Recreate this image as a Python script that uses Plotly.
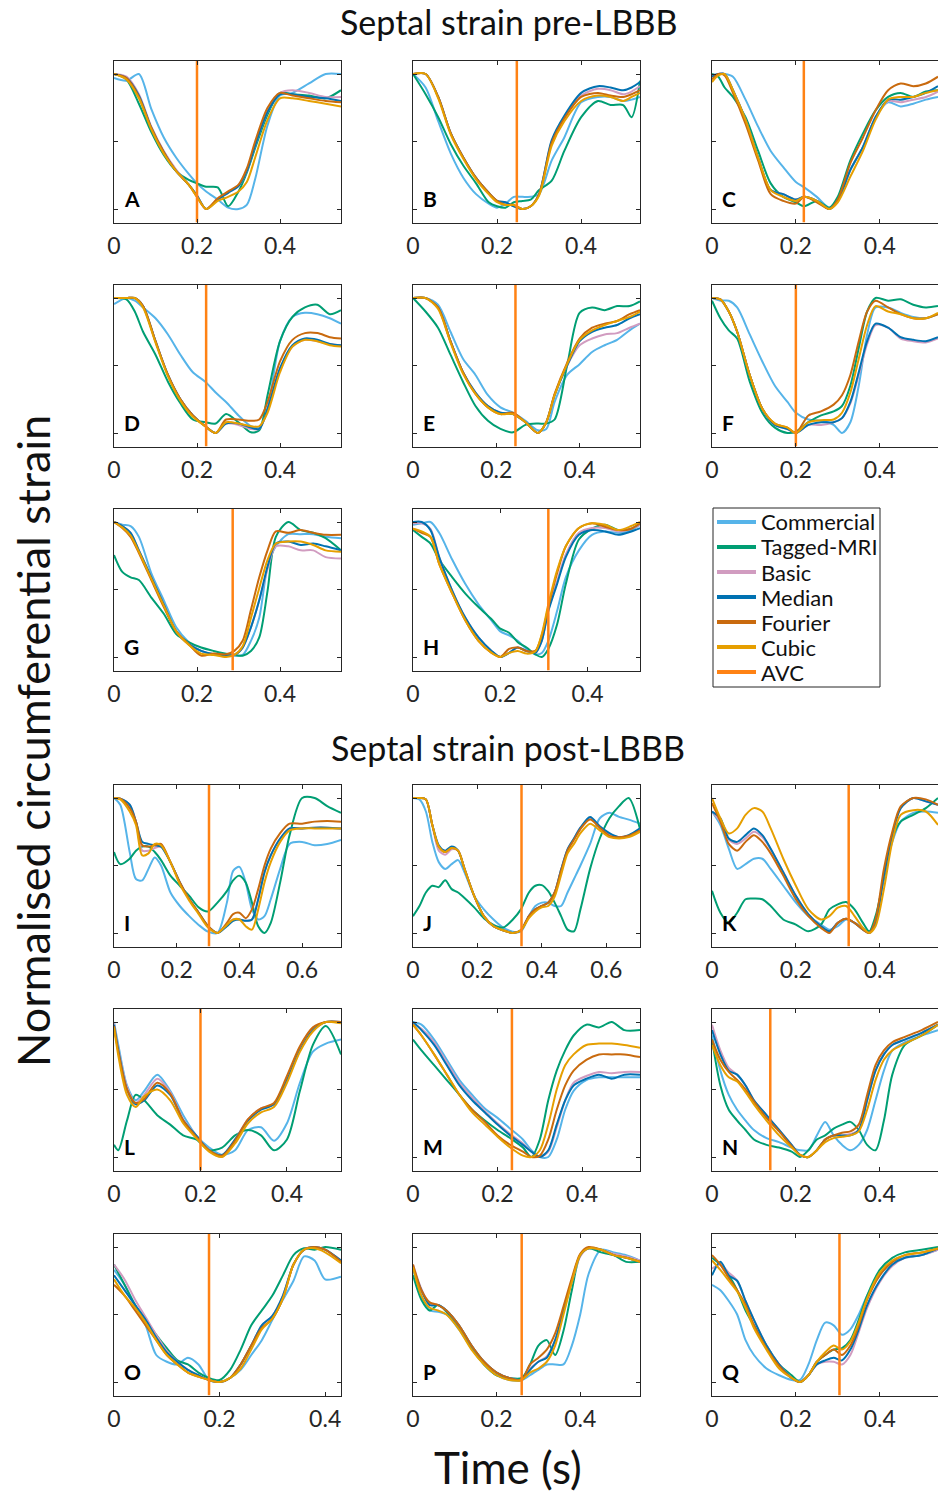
import plotly.graph_objects as go

FONT = "Lato"
INK = "#262626"

SERIES = ["Commercial", "Tagged-MRI", "Basic", "Median", "Fourier", "Cubic"]
COLORS = ["#56B4E9", "#009E73", "#D19CC0", "#0072B2", "#C96A0E", "#E69F00"]
AVC_COLOR = "#FF8214"

# ---------------- pre-LBBB ----------------
A_t = [0, 0.03, 0.06, 0.09, 0.12, 0.15, 0.18, 0.20, 0.222, 0.25, 0.275, 0.30, 0.32, 0.34, 0.37, 0.40, 0.43, 0.47, 0.51, 0.547]
A_commercial = [0.97, 0.95, 1.0, 0.74, 0.53, 0.38, 0.26, 0.19, 0.13, 0.07, 0.01, 0.0, 0.03, 0.22, 0.62, 0.84, 0.86, 0.93, 1.0, 1.0]
A_tagged = [1.0, 0.96, 0.78, 0.57, 0.40, 0.28, 0.215, 0.19, 0.165, 0.16, 0.02, 0.13, 0.27, 0.45, 0.70, 0.86, 0.85, 0.84, 0.82, 0.88]
A_basic = [1.0, 0.98, 0.85, 0.61, 0.43, 0.29, 0.18, 0.10, 0.0, 0.07, 0.12, 0.17, 0.28, 0.47, 0.72, 0.86, 0.88, 0.86, 0.83, 0.83]
A_median = [1.0, 0.97, 0.84, 0.60, 0.42, 0.28, 0.18, 0.10, 0.0, 0.07, 0.12, 0.17, 0.28, 0.47, 0.72, 0.85, 0.85, 0.83, 0.82, 0.80]
A_fourier = [1.0, 0.97, 0.83, 0.60, 0.42, 0.28, 0.18, 0.09, 0.0, 0.08, 0.13, 0.18, 0.30, 0.50, 0.75, 0.86, 0.84, 0.82, 0.80, 0.79]
A_cubic = [1.0, 0.96, 0.82, 0.59, 0.41, 0.28, 0.18, 0.09, 0.0, 0.06, 0.09, 0.13, 0.20, 0.38, 0.66, 0.82, 0.82, 0.80, 0.78, 0.76]
A_avc = 0.20

B_t = [0, 0.03, 0.06, 0.09, 0.12, 0.15, 0.18, 0.20, 0.22, 0.24, 0.26, 0.28, 0.30, 0.33, 0.36, 0.40, 0.44, 0.47, 0.50, 0.52, 0.54]
B_commercial = [1.0, 0.9, 0.65, 0.41, 0.23, 0.11, 0.04, 0.01, 0.04, 0.09, 0.09, 0.09, 0.11, 0.36, 0.53, 0.79, 0.83, 0.83, 0.80, 0.81, 0.83]
B_tagged = [1.0, 0.85, 0.68, 0.48, 0.32, 0.19, 0.05, 0.02, 0.01, 0.05, 0.06, 0.07, 0.14, 0.21, 0.43, 0.68, 0.80, 0.77, 0.77, 0.68, 0.95]
B_basic = [1.0, 1.0, 0.83, 0.56, 0.38, 0.23, 0.12, 0.06, 0.05, 0.02, 0.0, 0.02, 0.11, 0.50, 0.68, 0.84, 0.89, 0.88, 0.85, 0.87, 0.91]
B_median = [1.0, 1.0, 0.83, 0.56, 0.38, 0.23, 0.12, 0.06, 0.05, 0.02, 0.0, 0.02, 0.11, 0.51, 0.69, 0.86, 0.91, 0.90, 0.88, 0.90, 0.94]
B_fourier = [1.0, 1.0, 0.83, 0.56, 0.38, 0.23, 0.12, 0.06, 0.03, 0.03, 0.0, 0.02, 0.11, 0.49, 0.67, 0.83, 0.86, 0.84, 0.83, 0.85, 0.88]
B_cubic = [1.0, 1.0, 0.82, 0.55, 0.37, 0.22, 0.11, 0.05, 0.03, 0.03, 0.0, 0.02, 0.10, 0.47, 0.65, 0.80, 0.84, 0.83, 0.80, 0.83, 0.86]
B_avc = 0.247

C_t = [0, 0.015, 0.03, 0.05, 0.08, 0.11, 0.14, 0.17, 0.20, 0.22, 0.25, 0.28, 0.30, 0.33, 0.36, 0.39, 0.42, 0.45, 0.48, 0.51, 0.539]
C_commercial = [0.99, 1.0, 1.0, 0.98, 0.81, 0.61, 0.43, 0.31, 0.20, 0.16, 0.09, 0.01, 0.06, 0.29, 0.46, 0.68, 0.79, 0.76, 0.78, 0.81, 0.83]
C_tagged = [1.0, 0.98, 0.90, 0.83, 0.68, 0.43, 0.19, 0.09, 0.05, 0.02, 0.06, 0.01, 0.09, 0.36, 0.56, 0.73, 0.83, 0.86, 0.83, 0.87, 0.88]
C_basic = [0.98, 1.0, 1.0, 0.88, 0.66, 0.38, 0.14, 0.11, 0.07, 0.09, 0.06, 0.0, 0.06, 0.29, 0.46, 0.68, 0.80, 0.79, 0.81, 0.83, 0.87]
C_median = [0.98, 1.0, 1.0, 0.88, 0.66, 0.38, 0.14, 0.11, 0.07, 0.09, 0.06, 0.0, 0.06, 0.29, 0.46, 0.68, 0.81, 0.81, 0.83, 0.86, 0.91]
C_fourier = [0.96, 1.0, 0.99, 0.86, 0.63, 0.36, 0.11, 0.06, 0.04, 0.09, 0.05, 0.0, 0.07, 0.34, 0.53, 0.73, 0.88, 0.93, 0.91, 0.93, 0.98]
C_cubic = [0.94, 0.99, 1.0, 0.88, 0.66, 0.38, 0.14, 0.09, 0.06, 0.09, 0.06, 0.0, 0.05, 0.24, 0.43, 0.66, 0.81, 0.83, 0.83, 0.86, 0.88]
C_avc = 0.219

D_t = [0, 0.03, 0.05, 0.07, 0.10, 0.13, 0.16, 0.19, 0.22, 0.245, 0.27, 0.30, 0.33, 0.35, 0.37, 0.40, 0.43, 0.46, 0.49, 0.52, 0.547]
D_commercial = [0.955, 1.0, 0.98, 0.93, 0.85, 0.73, 0.58, 0.45, 0.38, 0.30, 0.23, 0.13, 0.05, 0.04, 0.18, 0.68, 0.86, 0.89, 0.88, 0.85, 0.81]
D_tagged = [1.0, 0.99, 0.90, 0.75, 0.58, 0.38, 0.22, 0.10, 0.08, 0.07, 0.14, 0.08, 0.005, 0.02, 0.28, 0.68, 0.86, 0.93, 0.95, 0.88, 0.91]
D_basic = [1.0, 1.0, 1.0, 0.94, 0.68, 0.43, 0.25, 0.13, 0.05, 0.0, 0.07, 0.06, 0.03, 0.03, 0.17, 0.47, 0.64, 0.69, 0.68, 0.66, 0.65]
D_median = [1.0, 1.0, 1.0, 0.94, 0.68, 0.43, 0.25, 0.13, 0.05, 0.0, 0.07, 0.07, 0.04, 0.03, 0.18, 0.48, 0.65, 0.70, 0.69, 0.66, 0.65]
D_fourier = [1.0, 1.0, 1.0, 0.94, 0.68, 0.43, 0.25, 0.13, 0.05, 0.0, 0.10, 0.10, 0.09, 0.10, 0.23, 0.53, 0.69, 0.74, 0.74, 0.71, 0.70]
D_cubic = [1.0, 1.0, 1.0, 0.93, 0.67, 0.42, 0.24, 0.12, 0.05, 0.0, 0.08, 0.07, 0.05, 0.05, 0.15, 0.45, 0.64, 0.69, 0.68, 0.65, 0.64]
D_avc = 0.222

E_t = [0, 0.03, 0.06, 0.09, 0.12, 0.15, 0.18, 0.21, 0.24, 0.27, 0.30, 0.32, 0.34, 0.37, 0.40, 0.43, 0.46, 0.49, 0.52, 0.545]
E_commercial = [1.0, 1.0, 0.95, 0.75, 0.55, 0.43, 0.28, 0.19, 0.15, 0.09, 0.02, 0.03, 0.23, 0.43, 0.51, 0.60, 0.65, 0.69, 0.76, 0.81]
E_tagged = [1.0, 0.90, 0.78, 0.58, 0.38, 0.20, 0.09, 0.03, 0.005, 0.06, 0.07, 0.07, 0.10, 0.50, 0.89, 0.93, 0.91, 0.94, 0.94, 0.975]
E_basic = [1.0, 1.0, 0.93, 0.68, 0.45, 0.30, 0.20, 0.15, 0.14, 0.08, 0.0, 0.08, 0.28, 0.50, 0.65, 0.70, 0.73, 0.74, 0.78, 0.81]
E_median = [1.0, 1.0, 0.93, 0.68, 0.45, 0.30, 0.20, 0.15, 0.14, 0.08, 0.0, 0.08, 0.28, 0.50, 0.68, 0.75, 0.78, 0.80, 0.85, 0.88]
E_fourier = [1.0, 1.0, 0.93, 0.68, 0.45, 0.29, 0.19, 0.14, 0.15, 0.08, 0.0, 0.08, 0.29, 0.52, 0.70, 0.78, 0.81, 0.83, 0.88, 0.91]
E_cubic = [1.0, 1.0, 0.92, 0.67, 0.44, 0.29, 0.19, 0.14, 0.14, 0.08, 0.0, 0.08, 0.28, 0.51, 0.69, 0.76, 0.80, 0.83, 0.86, 0.90]
E_avc = 0.246

F_t = [0, 0.02, 0.04, 0.06, 0.09, 0.12, 0.15, 0.18, 0.20, 0.23, 0.26, 0.29, 0.31, 0.33, 0.35, 0.37, 0.39, 0.42, 0.45, 0.48, 0.51, 0.539]
F_commercial = [1.0, 0.98, 0.98, 0.93, 0.73, 0.53, 0.35, 0.23, 0.15, 0.10, 0.09, 0.06, 0.0, 0.08, 0.35, 0.73, 0.93, 0.93, 0.89, 0.86, 0.85, 0.88]
F_tagged = [0.98, 0.85, 0.76, 0.70, 0.38, 0.15, 0.04, 0.0, 0.01, 0.08, 0.13, 0.16, 0.20, 0.35, 0.63, 0.90, 1.0, 0.98, 0.99, 0.95, 0.93, 0.94]
F_basic = [1.0, 0.99, 0.90, 0.75, 0.43, 0.18, 0.06, 0.03, 0.0, 0.06, 0.06, 0.08, 0.11, 0.22, 0.43, 0.66, 0.80, 0.78, 0.70, 0.68, 0.67, 0.70]
F_median = [1.0, 0.99, 0.90, 0.75, 0.43, 0.18, 0.06, 0.03, 0.0, 0.06, 0.08, 0.08, 0.11, 0.23, 0.45, 0.68, 0.81, 0.78, 0.71, 0.69, 0.68, 0.71]
F_fourier = [1.0, 0.99, 0.90, 0.75, 0.43, 0.18, 0.07, 0.04, 0.0, 0.13, 0.16, 0.21, 0.28, 0.43, 0.68, 0.90, 0.98, 0.93, 0.88, 0.85, 0.85, 0.88]
F_cubic = [1.0, 0.99, 0.90, 0.75, 0.43, 0.18, 0.07, 0.04, 0.0, 0.08, 0.095, 0.10, 0.15, 0.30, 0.55, 0.80, 0.94, 0.90, 0.88, 0.85, 0.85, 0.89]
F_avc = 0.20

G_t = [0, 0.02, 0.04, 0.06, 0.09, 0.12, 0.15, 0.18, 0.21, 0.24, 0.27, 0.29, 0.31, 0.33, 0.35, 0.37, 0.39, 0.42, 0.45, 0.48, 0.51, 0.547]
G_commercial = [1.0, 0.98, 0.97, 0.89, 0.62, 0.42, 0.22, 0.11, 0.045, 0.02, 0.01, 0.01, 0.015, 0.12, 0.29, 0.67, 0.82, 0.91, 0.91, 0.91, 0.89, 0.88]
G_tagged = [0.755, 0.63, 0.59, 0.57, 0.44, 0.32, 0.17, 0.11, 0.07, 0.045, 0.025, 0.015, 0.01, 0.045, 0.145, 0.49, 0.89, 1.0, 0.94, 0.92, 0.88, 0.79]
G_basic = [1.0, 0.97, 0.92, 0.79, 0.59, 0.39, 0.19, 0.095, 0.045, 0.02, 0.01, 0.015, 0.07, 0.22, 0.42, 0.65, 0.82, 0.82, 0.79, 0.79, 0.74, 0.73]
G_median = [1.0, 0.97, 0.92, 0.79, 0.59, 0.39, 0.19, 0.095, 0.045, 0.02, 0.01, 0.015, 0.07, 0.22, 0.42, 0.67, 0.84, 0.855, 0.83, 0.84, 0.82, 0.79]
G_fourier = [1.0, 0.955, 0.89, 0.77, 0.57, 0.37, 0.19, 0.095, 0.01, 0.025, 0.02, 0.045, 0.12, 0.35, 0.59, 0.79, 0.93, 0.92, 0.94, 0.92, 0.905, 0.905]
G_cubic = [1.0, 0.96, 0.90, 0.78, 0.58, 0.38, 0.19, 0.09, 0.025, 0.015, 0.0, 0.015, 0.08, 0.29, 0.51, 0.72, 0.84, 0.855, 0.855, 0.83, 0.79, 0.78]
G_avc = 0.286

H_t = [0, 0.02, 0.04, 0.06, 0.09, 0.12, 0.15, 0.18, 0.20, 0.22, 0.24, 0.26, 0.28, 0.295, 0.31, 0.33, 0.35, 0.38, 0.41, 0.44, 0.47, 0.50, 0.52]
H_commercial = [0.98, 0.99, 1.0, 0.92, 0.72, 0.54, 0.39, 0.27, 0.19, 0.16, 0.12, 0.06, 0.02, 0.03, 0.12, 0.34, 0.59, 0.79, 0.905, 0.93, 0.92, 0.94, 0.98]
H_tagged = [0.94, 0.89, 0.84, 0.72, 0.59, 0.47, 0.37, 0.28, 0.21, 0.18, 0.11, 0.07, 0.02, 0.0, 0.06, 0.24, 0.54, 0.87, 0.95, 0.98, 0.94, 0.95, 0.99]
H_basic = [0.99, 0.99, 0.95, 0.74, 0.49, 0.29, 0.145, 0.045, 0.0, 0.03, 0.07, 0.045, 0.03, 0.12, 0.35, 0.56, 0.76, 0.92, 0.955, 0.955, 0.93, 0.95, 0.98]
H_median = [1.0, 1.0, 0.94, 0.74, 0.49, 0.29, 0.145, 0.045, 0.0, 0.03, 0.07, 0.045, 0.03, 0.12, 0.34, 0.54, 0.74, 0.905, 0.94, 0.93, 0.905, 0.93, 0.955]
H_fourier = [0.95, 0.92, 0.89, 0.69, 0.47, 0.27, 0.12, 0.03, 0.0, 0.06, 0.07, 0.045, 0.045, 0.16, 0.37, 0.62, 0.82, 0.955, 0.99, 0.965, 0.94, 0.95, 0.99]
H_cubic = [0.95, 0.93, 0.89, 0.69, 0.47, 0.27, 0.12, 0.03, 0.0, 0.03, 0.045, 0.025, 0.04, 0.17, 0.39, 0.64, 0.82, 0.955, 0.99, 0.98, 0.94, 0.97, 1.0]
H_avc = 0.31

# ---------------- post-LBBB ----------------
I_t = [0, 0.02, 0.05, 0.07, 0.09, 0.11, 0.13, 0.15, 0.18, 0.21, 0.24, 0.27, 0.30, 0.33, 0.36, 0.38, 0.40, 0.42, 0.44, 0.46, 0.48, 0.50, 0.53, 0.56, 0.60, 0.64, 0.68, 0.724]
I_commercial = [1.0, 0.95, 0.60, 0.40, 0.39, 0.475, 0.56, 0.50, 0.30, 0.20, 0.125, 0.06, 0.01, 0.0, 0.225, 0.46, 0.49, 0.375, 0.175, 0.10, 0.125, 0.25, 0.475, 0.66, 0.675, 0.65, 0.66, 0.69]
I_tagged = [0.60, 0.51, 0.55, 0.61, 0.64, 0.64, 0.60, 0.54, 0.425, 0.35, 0.275, 0.19, 0.16, 0.225, 0.31, 0.39, 0.425, 0.375, 0.225, 0.05, 0.0, 0.075, 0.375, 0.725, 1.0, 1.0, 0.94, 0.89]
I_basic = [1.0, 0.995, 0.95, 0.825, 0.61, 0.61, 0.63, 0.64, 0.525, 0.375, 0.25, 0.15, 0.05, 0.0, 0.06, 0.10, 0.10, 0.09, 0.10, 0.25, 0.45, 0.575, 0.70, 0.775, 0.775, 0.78, 0.78, 0.775]
I_median = [1.0, 0.995, 0.95, 0.825, 0.675, 0.66, 0.65, 0.64, 0.525, 0.375, 0.25, 0.15, 0.05, 0.0, 0.05, 0.09, 0.10, 0.09, 0.10, 0.25, 0.45, 0.575, 0.70, 0.775, 0.775, 0.78, 0.78, 0.775]
I_fourier = [1.0, 0.995, 0.925, 0.825, 0.65, 0.64, 0.65, 0.66, 0.525, 0.375, 0.25, 0.15, 0.05, 0.0, 0.075, 0.14, 0.15, 0.11, 0.175, 0.325, 0.50, 0.625, 0.74, 0.81, 0.81, 0.825, 0.83, 0.825]
I_cubic = [1.0, 0.99, 0.90, 0.80, 0.575, 0.59, 0.66, 0.65, 0.525, 0.36, 0.24, 0.14, 0.04, 0.0, 0.06, 0.10, 0.10, 0.05, 0.025, 0.175, 0.375, 0.525, 0.675, 0.76, 0.775, 0.775, 0.775, 0.775]
I_avc = 0.303

J_t = [0, 0.02, 0.04, 0.06, 0.08, 0.10, 0.12, 0.14, 0.16, 0.19, 0.22, 0.25, 0.28, 0.31, 0.335, 0.36, 0.38, 0.40, 0.42, 0.44, 0.46, 0.48, 0.50, 0.52, 0.55, 0.58, 0.61, 0.64, 0.67, 0.705]
J_commercial = [1.0, 0.99, 0.90, 0.675, 0.525, 0.475, 0.51, 0.54, 0.45, 0.275, 0.175, 0.10, 0.04, 0.01, 0.01, 0.125, 0.20, 0.225, 0.225, 0.20, 0.20, 0.30, 0.40, 0.50, 0.66, 0.85, 0.89, 0.86, 0.84, 0.81]
J_tagged = [0.125, 0.20, 0.30, 0.35, 0.34, 0.39, 0.325, 0.30, 0.26, 0.19, 0.11, 0.06, 0.04, 0.10, 0.175, 0.30, 0.35, 0.355, 0.31, 0.225, 0.125, 0.025, 0.0125, 0.175, 0.475, 0.70, 0.85, 0.94, 1.0, 0.77]
J_basic = [1.0, 1.0, 0.99, 0.80, 0.61, 0.58, 0.62, 0.61, 0.475, 0.275, 0.125, 0.05, 0.02, 0.0, 0.02, 0.125, 0.175, 0.20, 0.225, 0.30, 0.47, 0.62, 0.70, 0.78, 0.85, 0.78, 0.73, 0.71, 0.72, 0.77]
J_median = [1.0, 1.0, 0.99, 0.80, 0.65, 0.61, 0.64, 0.61, 0.475, 0.275, 0.125, 0.05, 0.02, 0.0, 0.02, 0.125, 0.175, 0.20, 0.225, 0.30, 0.47, 0.62, 0.70, 0.78, 0.86, 0.79, 0.74, 0.71, 0.725, 0.775]
J_fourier = [1.0, 1.0, 0.99, 0.80, 0.64, 0.60, 0.63, 0.61, 0.475, 0.275, 0.125, 0.05, 0.02, 0.0, 0.02, 0.125, 0.175, 0.20, 0.225, 0.30, 0.46, 0.61, 0.69, 0.77, 0.84, 0.78, 0.72, 0.71, 0.72, 0.76]
J_cubic = [1.0, 1.0, 0.99, 0.80, 0.64, 0.60, 0.63, 0.61, 0.475, 0.275, 0.125, 0.05, 0.02, 0.0, 0.02, 0.11, 0.16, 0.19, 0.20, 0.27, 0.43, 0.59, 0.66, 0.74, 0.81, 0.76, 0.71, 0.70, 0.71, 0.75]
J_avc = 0.337

K_t = [0, 0.02, 0.04, 0.06, 0.08, 0.10, 0.12, 0.14, 0.17, 0.20, 0.23, 0.26, 0.28, 0.30, 0.32, 0.34, 0.36, 0.375, 0.39, 0.41, 0.43, 0.45, 0.48, 0.51, 0.539]
K_commercial = [0.90, 0.80, 0.625, 0.475, 0.51, 0.55, 0.55, 0.475, 0.35, 0.225, 0.125, 0.0625, 0.025, 0.05, 0.10, 0.075, 0.0375, 0.005, 0.10, 0.425, 0.675, 0.825, 0.89, 0.90, 0.89]
K_tagged = [0.3125, 0.15, 0.075, 0.15, 0.25, 0.255, 0.25, 0.20, 0.10, 0.0625, 0.0125, 0.0625, 0.175, 0.2125, 0.23, 0.175, 0.075, 0.0125, 0.125, 0.40, 0.70, 0.825, 0.875, 0.925, 1.0]
K_basic = [0.90, 0.825, 0.69, 0.66, 0.70, 0.75, 0.71, 0.62, 0.45, 0.275, 0.1375, 0.05, 0.0125, 0.075, 0.105, 0.075, 0.025, 0.0, 0.075, 0.425, 0.725, 0.925, 1.0, 0.975, 0.95]
K_median = [0.90, 0.85, 0.70, 0.675, 0.725, 0.775, 0.725, 0.625, 0.45, 0.275, 0.1375, 0.05, 0.0125, 0.075, 0.105, 0.075, 0.025, 0.0, 0.075, 0.425, 0.725, 0.925, 1.0, 0.975, 0.95]
K_fourier = [0.9625, 0.825, 0.66, 0.61, 0.675, 0.725, 0.675, 0.59, 0.425, 0.25, 0.125, 0.0375, 0.0, 0.075, 0.105, 0.075, 0.025, 0.0, 0.10, 0.475, 0.75, 0.9375, 1.0, 0.99, 0.95]
K_cubic = [1.0, 0.85, 0.7375, 0.775, 0.875, 0.925, 0.90, 0.775, 0.55, 0.35, 0.175, 0.10, 0.125, 0.1875, 0.20, 0.125, 0.0375, 0.0, 0.05, 0.325, 0.675, 0.875, 0.91, 0.90, 0.80]
K_avc = 0.326

L_t = [0, 0.01, 0.03, 0.05, 0.07, 0.10, 0.13, 0.16, 0.19, 0.22, 0.25, 0.28, 0.31, 0.34, 0.37, 0.40, 0.43, 0.46, 0.49, 0.525]
L_commercial = [1.0, 0.83, 0.53, 0.42, 0.49, 0.61, 0.49, 0.31, 0.16, 0.07, 0.015, 0.05, 0.20, 0.22, 0.12, 0.25, 0.55, 0.78, 0.84, 0.87]
L_tagged = [0.09, 0.05, 0.27, 0.46, 0.42, 0.31, 0.24, 0.16, 0.13, 0.05, 0.07, 0.16, 0.20, 0.16, 0.05, 0.13, 0.49, 0.83, 0.97, 0.76]
L_basic = [0.99, 0.80, 0.52, 0.40, 0.46, 0.58, 0.48, 0.28, 0.16, 0.05, 0.0, 0.13, 0.28, 0.36, 0.39, 0.57, 0.80, 0.95, 1.0, 1.0]
L_median = [0.98, 0.79, 0.50, 0.39, 0.42, 0.53, 0.46, 0.27, 0.16, 0.05, 0.015, 0.13, 0.27, 0.35, 0.39, 0.57, 0.79, 0.94, 1.0, 1.0]
L_fourier = [0.97, 0.78, 0.50, 0.40, 0.43, 0.55, 0.47, 0.27, 0.15, 0.05, 0.01, 0.12, 0.28, 0.36, 0.40, 0.60, 0.82, 0.96, 1.0, 1.0]
L_cubic = [0.96, 0.75, 0.46, 0.37, 0.45, 0.50, 0.42, 0.25, 0.14, 0.04, 0.0, 0.10, 0.25, 0.33, 0.37, 0.55, 0.78, 0.93, 1.0, 0.99]
L_avc = 0.20

M_t = [0, 0.02, 0.05, 0.08, 0.11, 0.14, 0.17, 0.20, 0.23, 0.26, 0.28, 0.30, 0.32, 0.34, 0.36, 0.38, 0.41, 0.44, 0.47, 0.50, 0.537]
M_commercial = [1.0, 0.98, 0.87, 0.72, 0.57, 0.46, 0.36, 0.29, 0.21, 0.13, 0.05, 0.0, 0.0, 0.13, 0.35, 0.49, 0.57, 0.59, 0.59, 0.59, 0.59]
M_tagged = [0.87, 0.79, 0.68, 0.57, 0.46, 0.35, 0.27, 0.20, 0.14, 0.07, 0.0, 0.13, 0.42, 0.64, 0.79, 0.90, 0.98, 0.96, 1.0, 0.94, 0.94]
M_basic = [0.99, 0.95, 0.85, 0.70, 0.55, 0.44, 0.34, 0.25, 0.17, 0.10, 0.04, 0.0, 0.04, 0.22, 0.42, 0.55, 0.60, 0.63, 0.62, 0.63, 0.63]
M_median = [1.0, 0.94, 0.83, 0.68, 0.53, 0.42, 0.33, 0.24, 0.16, 0.09, 0.04, 0.0, 0.05, 0.24, 0.42, 0.53, 0.58, 0.61, 0.58, 0.61, 0.61]
M_fourier = [0.98, 0.90, 0.76, 0.61, 0.46, 0.35, 0.26, 0.16, 0.09, 0.04, 0.0, 0.01, 0.13, 0.35, 0.53, 0.64, 0.72, 0.76, 0.76, 0.76, 0.74]
M_cubic = [0.98, 0.90, 0.76, 0.61, 0.46, 0.33, 0.24, 0.15, 0.07, 0.01, 0.0, 0.05, 0.24, 0.50, 0.68, 0.76, 0.83, 0.84, 0.84, 0.83, 0.81]
M_avc = 0.234

N_t = [0, 0.02, 0.04, 0.06, 0.08, 0.10, 0.13, 0.16, 0.19, 0.21, 0.23, 0.25, 0.27, 0.29, 0.31, 0.33, 0.35, 0.37, 0.39, 0.41, 0.43, 0.46, 0.50, 0.539]
N_commercial = [0.90, 0.64, 0.46, 0.35, 0.27, 0.20, 0.14, 0.11, 0.07, 0.05, 0.05, 0.16, 0.26, 0.16, 0.09, 0.05, 0.09, 0.20, 0.42, 0.64, 0.79, 0.85, 0.90, 0.94]
N_tagged = [0.87, 0.53, 0.35, 0.27, 0.20, 0.13, 0.09, 0.07, 0.04, 0.0, 0.05, 0.13, 0.16, 0.21, 0.24, 0.26, 0.20, 0.09, 0.05, 0.27, 0.61, 0.83, 0.90, 0.98]
N_basic = [0.98, 0.79, 0.66, 0.61, 0.53, 0.42, 0.31, 0.20, 0.09, 0.015, 0.0, 0.05, 0.13, 0.16, 0.16, 0.17, 0.20, 0.42, 0.64, 0.76, 0.83, 0.87, 0.92, 0.98]
N_median = [0.94, 0.76, 0.64, 0.61, 0.53, 0.42, 0.31, 0.20, 0.09, 0.015, 0.0, 0.05, 0.13, 0.16, 0.16, 0.16, 0.20, 0.42, 0.64, 0.76, 0.83, 0.87, 0.92, 0.98]
N_fourier = [0.87, 0.72, 0.63, 0.57, 0.50, 0.41, 0.29, 0.19, 0.08, 0.015, 0.0, 0.05, 0.13, 0.16, 0.18, 0.19, 0.24, 0.46, 0.68, 0.79, 0.85, 0.89, 0.94, 1.0]
N_cubic = [0.83, 0.68, 0.59, 0.56, 0.48, 0.39, 0.27, 0.16, 0.07, 0.015, 0.0, 0.05, 0.11, 0.14, 0.15, 0.16, 0.19, 0.35, 0.57, 0.72, 0.79, 0.84, 0.90, 0.98]
N_avc = 0.139

O_t = [0, 0.02, 0.04, 0.06, 0.08, 0.10, 0.12, 0.14, 0.16, 0.18, 0.20, 0.22, 0.24, 0.26, 0.28, 0.30, 0.32, 0.34, 0.36, 0.38, 0.40, 0.43]
O_commercial = [0.83, 0.72, 0.57, 0.42, 0.20, 0.15, 0.13, 0.18, 0.13, 0.015, 0.0, 0.03, 0.09, 0.20, 0.31, 0.46, 0.61, 0.75, 0.93, 0.90, 0.76, 0.78]
O_tagged = [0.87, 0.72, 0.57, 0.46, 0.35, 0.25, 0.16, 0.13, 0.07, 0.03, 0.015, 0.09, 0.24, 0.42, 0.53, 0.64, 0.79, 0.94, 0.99, 0.98, 1.0, 0.98]
O_basic = [0.87, 0.76, 0.61, 0.48, 0.35, 0.23, 0.15, 0.09, 0.05, 0.015, 0.0, 0.03, 0.13, 0.27, 0.42, 0.49, 0.64, 0.87, 0.98, 1.0, 0.98, 0.90]
O_median = [0.79, 0.68, 0.57, 0.46, 0.33, 0.22, 0.15, 0.09, 0.05, 0.015, 0.0, 0.03, 0.13, 0.27, 0.42, 0.49, 0.64, 0.87, 0.98, 1.0, 0.98, 0.90]
O_fourier = [0.72, 0.64, 0.53, 0.42, 0.31, 0.20, 0.13, 0.07, 0.04, 0.015, 0.0, 0.03, 0.13, 0.27, 0.40, 0.47, 0.62, 0.87, 0.98, 1.0, 0.98, 0.89]
O_cubic = [0.76, 0.64, 0.55, 0.44, 0.31, 0.20, 0.13, 0.07, 0.04, 0.015, 0.0, 0.03, 0.10, 0.24, 0.39, 0.47, 0.62, 0.87, 0.98, 0.99, 0.96, 0.88]
O_avc = 0.18

P_t = [0, 0.02, 0.04, 0.06, 0.08, 0.11, 0.14, 0.17, 0.20, 0.23, 0.26, 0.28, 0.30, 0.32, 0.34, 0.36, 0.38, 0.40, 0.42, 0.45, 0.48, 0.51, 0.543]
P_commercial = [0.83, 0.64, 0.53, 0.52, 0.50, 0.39, 0.25, 0.13, 0.05, 0.015, 0.015, 0.05, 0.09, 0.13, 0.13, 0.13, 0.27, 0.50, 0.80, 0.98, 0.96, 0.94, 0.90]
P_tagged = [0.79, 0.61, 0.53, 0.57, 0.52, 0.40, 0.25, 0.13, 0.05, 0.03, 0.03, 0.13, 0.27, 0.31, 0.20, 0.38, 0.68, 0.94, 0.99, 0.96, 0.94, 0.89, 0.89]
P_basic = [0.87, 0.69, 0.58, 0.57, 0.53, 0.42, 0.27, 0.15, 0.07, 0.03, 0.015, 0.10, 0.15, 0.19, 0.31, 0.52, 0.74, 0.93, 0.99, 0.98, 0.95, 0.93, 0.90]
P_median = [0.85, 0.68, 0.57, 0.57, 0.53, 0.42, 0.27, 0.15, 0.07, 0.03, 0.015, 0.09, 0.15, 0.18, 0.31, 0.53, 0.75, 0.94, 0.99, 0.98, 0.94, 0.92, 0.89]
P_fourier = [0.87, 0.68, 0.59, 0.57, 0.53, 0.42, 0.27, 0.15, 0.07, 0.03, 0.015, 0.13, 0.18, 0.24, 0.36, 0.56, 0.77, 0.95, 1.0, 0.98, 0.94, 0.92, 0.89]
P_cubic = [0.85, 0.64, 0.55, 0.53, 0.50, 0.39, 0.24, 0.13, 0.05, 0.015, 0.015, 0.07, 0.10, 0.15, 0.27, 0.50, 0.74, 0.94, 0.99, 0.98, 0.94, 0.92, 0.89]
P_avc = 0.26

Q_t = [0, 0.02, 0.04, 0.06, 0.08, 0.10, 0.13, 0.16, 0.19, 0.21, 0.23, 0.25, 0.27, 0.29, 0.31, 0.33, 0.35, 0.37, 0.40, 0.43, 0.46, 0.50, 0.539]
Q_commercial = [0.72, 0.68, 0.60, 0.50, 0.31, 0.20, 0.10, 0.05, 0.015, 0.015, 0.13, 0.31, 0.44, 0.42, 0.35, 0.39, 0.50, 0.64, 0.79, 0.89, 0.92, 0.94, 0.98]
Q_tagged = [0.92, 0.87, 0.79, 0.68, 0.53, 0.42, 0.27, 0.13, 0.05, 0.0, 0.05, 0.15, 0.20, 0.24, 0.25, 0.31, 0.46, 0.64, 0.83, 0.92, 0.96, 0.98, 1.0]
Q_basic = [0.84, 0.87, 0.81, 0.75, 0.60, 0.46, 0.27, 0.13, 0.03, 0.0, 0.05, 0.13, 0.15, 0.15, 0.13, 0.20, 0.37, 0.55, 0.74, 0.86, 0.92, 0.94, 0.98]
Q_median = [0.79, 0.89, 0.79, 0.75, 0.60, 0.46, 0.27, 0.13, 0.03, 0.0, 0.05, 0.13, 0.16, 0.18, 0.16, 0.24, 0.39, 0.57, 0.75, 0.87, 0.92, 0.94, 0.99]
Q_fourier = [0.94, 0.87, 0.77, 0.68, 0.57, 0.42, 0.25, 0.12, 0.03, 0.0, 0.05, 0.15, 0.20, 0.24, 0.20, 0.27, 0.42, 0.61, 0.79, 0.89, 0.94, 0.96, 0.99]
Q_cubic = [0.90, 0.83, 0.75, 0.67, 0.55, 0.40, 0.24, 0.10, 0.03, 0.0, 0.05, 0.15, 0.22, 0.27, 0.24, 0.30, 0.44, 0.62, 0.81, 0.90, 0.94, 0.96, 0.99]
Q_avc = 0.304

X_TICKS = [0, 0.2, 0.4, 0.6]
X_TICK_TEXT = ["0", "0.2", "0.4", "0.6"]
Y_TICKS = [0, 0.5, 1]
Y_RANGE = [-0.1, 1.1]

# (label, time, series in SERIES order, AVC time, row, column)
PANELS = [
    ("A", A_t, [A_commercial, A_tagged, A_basic, A_median, A_fourier, A_cubic], A_avc, 0, 0),
    ("B", B_t, [B_commercial, B_tagged, B_basic, B_median, B_fourier, B_cubic], B_avc, 0, 1),
    ("C", C_t, [C_commercial, C_tagged, C_basic, C_median, C_fourier, C_cubic], C_avc, 0, 2),
    ("D", D_t, [D_commercial, D_tagged, D_basic, D_median, D_fourier, D_cubic], D_avc, 1, 0),
    ("E", E_t, [E_commercial, E_tagged, E_basic, E_median, E_fourier, E_cubic], E_avc, 1, 1),
    ("F", F_t, [F_commercial, F_tagged, F_basic, F_median, F_fourier, F_cubic], F_avc, 1, 2),
    ("G", G_t, [G_commercial, G_tagged, G_basic, G_median, G_fourier, G_cubic], G_avc, 2, 0),
    ("H", H_t, [H_commercial, H_tagged, H_basic, H_median, H_fourier, H_cubic], H_avc, 2, 1),
    ("I", I_t, [I_commercial, I_tagged, I_basic, I_median, I_fourier, I_cubic], I_avc, 3, 0),
    ("J", J_t, [J_commercial, J_tagged, J_basic, J_median, J_fourier, J_cubic], J_avc, 3, 1),
    ("K", K_t, [K_commercial, K_tagged, K_basic, K_median, K_fourier, K_cubic], K_avc, 3, 2),
    ("L", L_t, [L_commercial, L_tagged, L_basic, L_median, L_fourier, L_cubic], L_avc, 4, 0),
    ("M", M_t, [M_commercial, M_tagged, M_basic, M_median, M_fourier, M_cubic], M_avc, 4, 1),
    ("N", N_t, [N_commercial, N_tagged, N_basic, N_median, N_fourier, N_cubic], N_avc, 4, 2),
    ("O", O_t, [O_commercial, O_tagged, O_basic, O_median, O_fourier, O_cubic], O_avc, 5, 0),
    ("P", P_t, [P_commercial, P_tagged, P_basic, P_median, P_fourier, P_cubic], P_avc, 5, 1),
    ("Q", Q_t, [Q_commercial, Q_tagged, Q_basic, Q_median, Q_fourier, Q_cubic], Q_avc, 5, 2),
]

# page geometry (pixels)
W, H = 938, 1498
COL_PX = [(114, 341), (413, 640), (712, 938)]
ROW_TOP_PX = [60.5, 284.5, 508.5, 784.5, 1008.5, 1233.5]
BOX_H = 162

# key box (pixels): left, top, right, bottom, first row centre, row pitch
KEY_BOX = (713, 508, 880, 687)
KEY_ROW0, KEY_PITCH = 522, 25
KEY_LINE = (717, 756)
KEY_TEXT_X = 759

fig = go.Figure()
layout = {}
annotations = []
shapes = []

for k, (label, t, values, avc, row, col) in enumerate(PANELS, start=1):
    sfx = "" if k == 1 else str(k)
    xa, ya = "x" + sfx, "y" + sfx
    for name, color, v in zip(SERIES, COLORS, values):
        fig.add_trace(go.Scatter(
            x=t, y=v, mode="lines", name=name, showlegend=False, hoverinfo="skip",
            line=dict(color=color, width=2, shape="spline", smoothing=0.8),
            xaxis=xa, yaxis=ya))
    fig.add_trace(go.Scatter(
        x=[avc, avc], y=Y_RANGE, mode="lines", name="AVC", showlegend=False,
        hoverinfo="skip", line=dict(color=AVC_COLOR, width=2.5),
        xaxis=xa, yaxis=ya))

    x0, x1 = COL_PX[col]
    top = ROW_TOP_PX[row]
    open_right = x1 >= W
    common = dict(showline=True, linecolor=INK, linewidth=1, ticks="inside",
                  ticklen=4, tickwidth=1, tickcolor=INK, showgrid=False,
                  zeroline=False, fixedrange=True)
    layout["xaxis" + sfx] = dict(
        domain=[x0 / W, x1 / W], anchor=ya, range=[0, t[-1]],
        tickvals=X_TICKS, ticktext=X_TICK_TEXT, mirror="ticks",
        ticklabelstandoff=3,
        tickfont=dict(family=FONT, size=23, color=INK), **common)
    layout["yaxis" + sfx] = dict(
        domain=[1 - (top + BOX_H) / H, 1 - top / H], anchor=xa, range=Y_RANGE,
        tickvals=Y_TICKS, showticklabels=False,
        mirror=False if open_right else "ticks", **common)
    annotations.append(dict(
        text="<b>%s</b>" % label, xref=xa + " domain", yref=ya + " domain",
        x=0.035, y=0.15, xanchor="left", yanchor="middle", showarrow=False,
        font=dict(family=FONT, size=21, color="#000000")))

# key: framed box with a coloured sample line and a name per entry
kl, kt, kr, kb = KEY_BOX
shapes.append(dict(type="rect", xref="paper", yref="paper",
                   x0=kl / W, x1=kr / W, y0=1 - kb / H, y1=1 - kt / H,
                   line=dict(color=INK, width=1), fillcolor="white", layer="above"))
for i, (name, color) in enumerate(zip(SERIES + ["AVC"], COLORS + [AVC_COLOR])):
    yc = KEY_ROW0 + i * KEY_PITCH
    shapes.append(dict(type="line", xref="paper", yref="paper",
                       x0=KEY_LINE[0] / W, x1=KEY_LINE[1] / W,
                       y0=1 - yc / H, y1=1 - yc / H,
                       line=dict(color=color, width=4), layer="above"))
    annotations.append(dict(text=name, xref="paper", yref="paper",
                            x=KEY_TEXT_X / W, y=1 - yc / H, xanchor="left",
                            yanchor="middle", showarrow=False,
                            font=dict(family=FONT, size=22, color="#111111")))

annotations += [
    dict(text="Septal strain pre-LBBB", xref="paper", yref="paper",
         x=508 / W, y=1 - 22 / H, xanchor="center", yanchor="middle",
         showarrow=False, font=dict(family=FONT, size=34, color="#111111")),
    dict(text="Septal strain post-LBBB", xref="paper", yref="paper",
         x=508 / W, y=1 - 747 / H, xanchor="center", yanchor="middle",
         showarrow=False, font=dict(family=FONT, size=34, color="#111111")),
    dict(text="Time (s)", xref="paper", yref="paper",
         x=508 / W, y=1 - 1467 / H, xanchor="center", yanchor="middle",
         showarrow=False, borderpad=0,
         font=dict(family=FONT, size=44, color="#111111")),
    dict(text="Normalised circumferential strain", xref="paper", yref="paper",
         x=33 / W, y=1 - 741 / H, xanchor="center", yanchor="middle",
         textangle=-90, showarrow=False,
         font=dict(family=FONT, size=45, color="#111111")),
]

fig.update_layout(
    width=W, height=H,
    margin=dict(l=0, r=0, t=0, b=0, pad=0, autoexpand=False),
    paper_bgcolor="white", plot_bgcolor="white",
    font=dict(family=FONT, color=INK),
    showlegend=False,
    annotations=annotations,
    shapes=shapes,
    **layout,
)

fig.write_html("out.html")
